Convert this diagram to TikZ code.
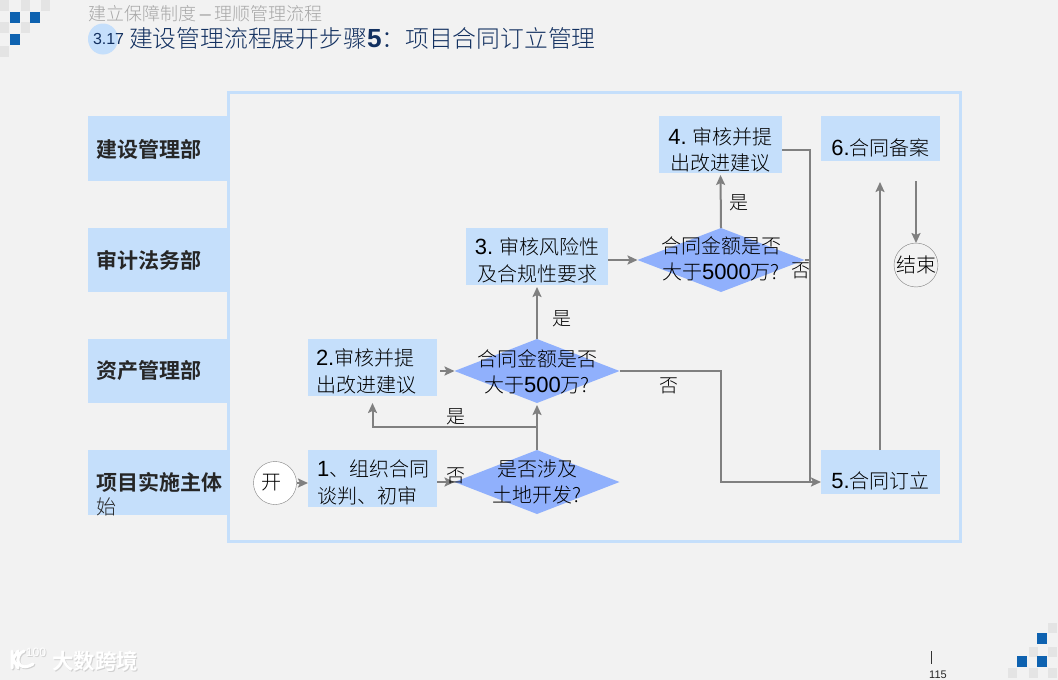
\documentclass[tikz,border=0pt]{standalone}
\usepackage{fontspec}
\setmainfont{Noto Sans CJK SC}[UprightFont=* Light,BoldFont=* Bold]
\newfontfamily\latinfont[Scale=1.1]{Liberation Sans}
\usepackage{xcolor}
\usetikzlibrary{shapes.geometric,arrows.meta}
\definecolor{pagegray}{RGB}{242,242,242}
\definecolor{boxblue}{RGB}{197,223,251}
\definecolor{diamondblue}{RGB}{144,176,252}
\definecolor{squareblue}{RGB}{14,98,176}
\definecolor{squaregray}{RGB}{228,228,228}
\definecolor{flowgray}{RGB}{128,128,128}
\definecolor{titlenavy}{RGB}{18,48,96}

\begin{document}
\begin{tikzpicture}[
  x=1pt, y=-1pt,
  every node/.style={inner sep=0pt, outer sep=0pt},
  deptbox/.style={fill=boxblue, minimum width=140pt},
  deptname/.style={anchor=west, font=\fontsize{21}{24}\selectfont\bfseries, text=black!85},
  stepbox/.style={fill=boxblue},
  steptext/.style={align=center, font=\fontsize{20}{26.5}\selectfont, text=black},
  decision/.style={diamond, fill=diamondblue, aspect=2.6},
  endpoint/.style={circle, draw=flowgray, minimum size=43pt, font=\fontsize{20}{24}\selectfont},
  flow/.style={draw=flowgray, line width=2pt, -{Stealth[length=10pt,width=9pt,inset=2pt]}},
  flowline/.style={draw=flowgray, line width=2pt},
  answer/.style={font=\fontsize{19}{24}\selectfont, text=black},
  ]
  % Fond
  \fill[pagegray] (0,0) rectangle (1058,680);
  \useasboundingbox (0,0) rectangle (1058,680);

  % Damier haut gauche
  \foreach \x/\y in {0/0,21/0,41/0,0/22,21/22,0/46}
    \fill[squaregray] (\x,\y) rectangle ++(9,11);
  \foreach \x/\y in {10/12,30/12,10/34}
    \fill[squareblue] (\x,\y) rectangle ++(10,11);
  % Damier bas droite
  \foreach \x/\y in {1048/623,1029/647,1048/647,1008/668,1029/668,1048/668}
    \fill[squaregray] (\x,\y) rectangle ++(9,10);
  \foreach \x/\y in {1037/633,1017/656,1037/656}
    \fill[squareblue] (\x,\y) rectangle ++(10,11);

  % Titre
  \node[ellipse, fill=boxblue, minimum width=30pt, minimum height=31pt] (badge) at (103,39) {};
  \node[anchor=west, font=\latinfont\fontsize{14.5}{18}\selectfont, text=titlenavy] (num) at (93,39) {3.17};
  \node[anchor=west, font=\fontsize{18}{20}\selectfont, text=black!35] (surtitle) at (88,14) {建立保障制度 {\latinfont –} 理顺管理流程};
  \node[anchor=west, font=\fontsize{23.8}{26}\selectfont, text=titlenavy] (title) at (129,38) {建设管理流程展开步骤{\latinfont\bfseries 5}：项目合同订立管理};

  % Cadre
  \draw[boxblue, line width=3pt] (228,92) rectangle (960,541);

  % Services
  \node[deptbox, minimum height=65pt] (dept1) at (158,148.5) {};
  \node[deptbox, minimum height=64pt] (dept2) at (158,260) {};
  \node[deptbox, minimum height=64pt] (dept3) at (158,371) {};
  \node[deptbox, minimum height=65pt] (dept4) at (158,482.5) {};
  \node[deptname] (nom1) at (96,149) {建设管理部};
  \node[deptname] (nom2) at (96,260) {审计法务部};
  \node[deptname] (nom3) at (96,371) {资产管理部};
  \node[deptname] (nom4) at (96,482) {项目实施主体};
  \node[anchor=west, font=\fontsize{20}{24}\selectfont, text=black!85] (spill) at (96,507) {始};

  % Etapes
  \node[stepbox, minimum width=129pt, minimum height=57pt] (etape1) at (372.5,478.5) {};
  \node[stepbox, minimum width=129pt, minimum height=57pt] (etape2) at (372.5,367.5) {};
  \node[stepbox, minimum width=142pt, minimum height=57pt] (etape3) at (537,256.5) {};
  \node[stepbox, minimum width=123pt, minimum height=57pt] (etape4) at (720.5,144.5) {};
  \node[stepbox, minimum width=119pt, minimum height=44pt] (etape5) at (880.5,472) {};
  \node[stepbox, minimum width=119pt, minimum height=45pt] (etape6) at (880.5,138.5) {};
  \node[steptext, anchor=west, align=left] (texte1) at (317,482.5) {{\latinfont 1}、组织合同\\谈判、初审};
  \node[steptext, anchor=west, align=left] (texte2) at (316,371.5) {{\latinfont 2.}审核并提\\出改进建议};
  \node[steptext] (texte3) at (537,260.5) {{\latinfont 3.} 审核风险性\\及合规性要求};
  \node[steptext] (texte4) at (720.5,150) {{\latinfont 4.} 审核并提\\出改进建议};
  \node[steptext] (texte5) at (880.5,481) {{\latinfont 5.}合同订立};
  \node[steptext] (texte6) at (880.5,148) {{\latinfont 6.}合同备案};

  % Decisions
  \node[decision, minimum width=165pt, minimum height=64pt] (test1) at (537,482) {};
  \node[decision, minimum width=165pt, minimum height=64pt] (test2) at (537,371) {};
  \node[decision, minimum width=167pt, minimum height=64pt] (test3) at (721,260) {};
  \node[steptext] (question1) at (537,482) {是否涉及\\土地开发?};
  \node[steptext] (question2) at (537,372) {合同金额是否\\大于{\latinfont 500}万?};
  \node[steptext] (question3) at (721,259) {合同金额是否\\大于{\latinfont 5000}万?};

  % Debut et fin
  \node[endpoint, fill=white] (debut) at (275,483) {\kern-8pt 开};
  \node[endpoint] (fin) at (916,265) {结束};

  % Points de passage
  \coordinate (branche) at (537,427);
  \coordinate (coude2) at (721,371);
  \coordinate (coude5) at (721,482);
  \coordinate (coude4) at (810,150);
  \coordinate (retour) at (810,482);
  \coordinate (sortie3) at (810,260);
  \coordinate (haut5) at (880,450);
  \coordinate (bas6) at (880,182);
  \coordinate (depart6) at (916,181);
  \coordinate (depart4) at (782,150);

  % Liaisons
  \draw[flow] (debut.east) -- (etape1.west |- debut.east);
  \draw[flow] (etape1.east |- test1.west) -- (test1.west);
  \draw[flow, shorten >=2pt] (test1.north) -- (test2.south);
  \draw[flow, shorten >=7pt] (branche) -| (etape2.south);
  \draw[flow, shorten <=3pt] (etape2.east |- test2.west) -- (test2.west);
  \draw[flow, shorten >=2pt] (test2.north) -- (etape3.south);
  \draw[flow] (etape3.east |- test3.west) -- (test3.west);
  \draw[flow, shorten >=2pt] (test3.north) -- (etape4.south);
  \draw[flowline] (depart4) -- (coude4) -- (retour);
  \draw[flowline] (test3.east) -- (sortie3);
  \draw[flow] (test2.east) -- (coude2) -- (coude5) -- (etape5.west |- coude5);
  \draw[flow] (haut5) -- (bas6);
  \draw[flow] (depart6) -- (fin.north);

  % Reponses
  \node[answer] (oui1) at (456,417) {是};
  \node[answer] (non1) at (456,476) {否};
  \node[answer] (oui2) at (562,319) {是};
  \node[answer] (non2) at (669,386) {否};
  \node[answer] (oui3) at (739,203) {是};
  \node[answer] (non3) at (801,271) {否};

  % Pied de page
  \node[font=\fontsize{21.5}{24}\selectfont\bfseries, text=black!18] (ombre) at (96,662) {大数跨境};
  \node[font=\fontsize{21.5}{24}\selectfont\bfseries, text=white] (marque) at (95,661) {大数跨境};
  \draw[black!18, line width=3pt, line cap=round] (13,652) -- (13,669) (19,652) -- (14,660) -- (19,669) (25,652) .. controls (15,655) and (17,675) .. (34,665);
  \draw[white, line width=3pt, line cap=round] (12,651) -- (12,668) (18,651) -- (13,659) -- (18,668) (24,651) .. controls (14,654) and (16,674) .. (33,664);
  \node[font=\latinfont\fontsize{11}{12}\selectfont, text=black!18] (logoombre) at (37,653) {100};
  \node[font=\latinfont\fontsize{11}{12}\selectfont, text=white] (logo) at (36,652) {100};
  \draw[black!80, line width=1pt] (931,651) -- (931,664);
  \node[font=\latinfont\fontsize{10}{12}\selectfont, text=black!85] (page) at (938,675) {115};
\end{tikzpicture}
\end{document}
